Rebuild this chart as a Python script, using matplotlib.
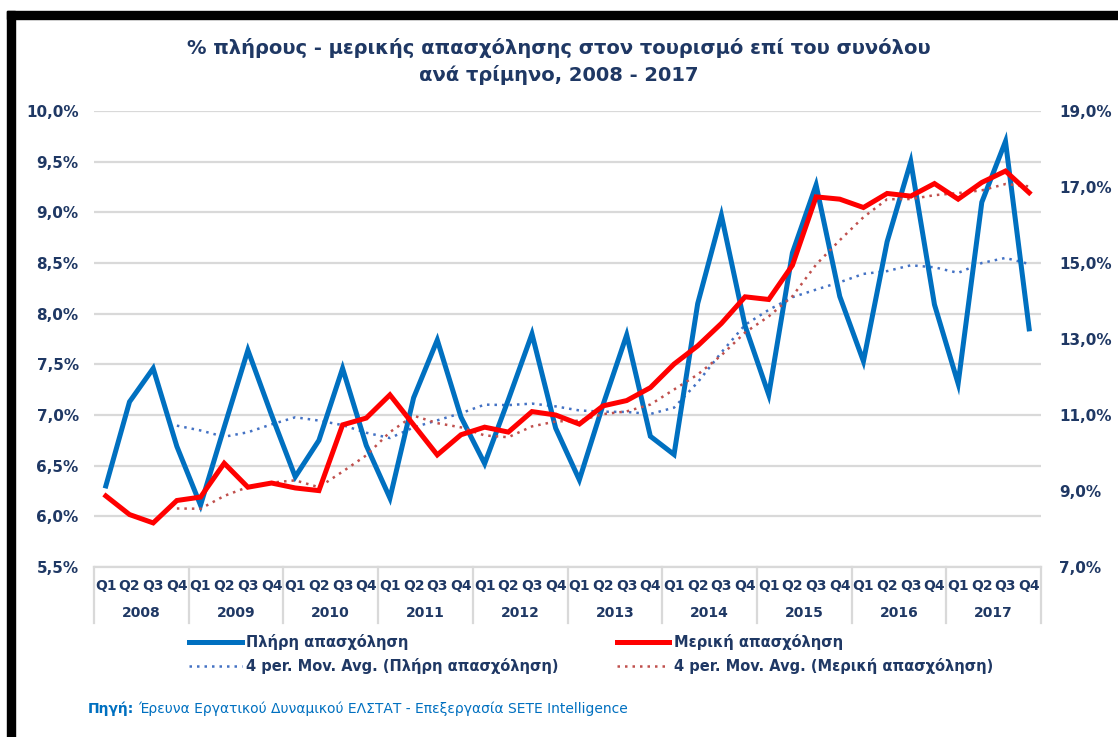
import matplotlib
matplotlib.use("Agg")
import matplotlib.pyplot as plt
import matplotlib.transforms as mtransforms
from matplotlib.patches import Rectangle
import pandas as pd

years = ["2008", "2009", "2010", "2011", "2012", "2013", "2014", "2015", "2016", "2017"]
quarters = ["Q1", "Q2", "Q3", "Q4"]

# % full-time (left axis)
full_time = [6.30, 7.13, 7.46, 6.69,
             6.11, 6.88, 7.64, 7.00,
             6.39, 6.75, 7.46, 6.70,
             6.18, 7.17, 7.74, 6.98,
             6.52, 7.15, 7.80, 6.87,
             6.36, 7.10, 7.79, 6.79,
             6.61, 8.10, 8.97, 7.88,
             7.20, 8.60, 9.27, 8.17,
             7.53, 8.71, 9.50, 8.09,
             7.31, 9.10, 9.70, 7.85]

# % part-time (right axis)
part_time = [8.87, 8.38, 8.16, 8.75,
             8.84, 9.73, 9.10, 9.21,
             9.08, 9.01, 10.74, 10.92,
             11.53, 10.74, 9.95, 10.48,
             10.68, 10.55, 11.09, 11.00,
             10.76, 11.24, 11.38, 11.72,
             12.34, 12.82, 13.41, 14.11,
             14.04, 14.94, 16.74, 16.68,
             16.46, 16.83, 16.76, 17.09,
             16.68, 17.12, 17.42, 16.85]

left_ticks = [5.5, 6.0, 6.5, 7.0, 7.5, 8.0, 8.5, 9.0, 9.5, 10.0]
right_ticks = [7, 9, 11, 13, 15, 17, 19]

NAVY = "#1F3864"
BLUE = "#0070C0"
RED = "#FF0000"
GRID = "#D9D9D9"

df = pd.DataFrame({"full": full_time, "part": part_time})
ma_full = df["full"].rolling(4).mean()
ma_part = df["part"].rolling(4).mean()
x = list(range(len(df)))

fig = plt.figure(figsize=(11.18, 7.37), dpi=100)
ax = fig.add_axes([94 / 1118, 1 - 567 / 737, 947 / 1118, 456 / 737])
ax2 = ax.twinx()

ax.set_xlim(-0.5, len(df) - 0.5)
ax.set_ylim(5.5, 10.0)
ax2.set_ylim(7, 19)
ax.set_yticks(left_ticks)
ax2.set_yticks(right_ticks)
ax.set_yticklabels([f"{v:.1f}%".replace(".", ",") for v in left_ticks])
ax2.set_yticklabels([f"{v:.1f}%".replace(".", ",") for v in right_ticks])

for a in (ax, ax2):
    for s in a.spines.values():
        s.set_visible(False)
    a.tick_params(length=0, labelsize=11, labelcolor=NAVY)
    for lab in a.get_yticklabels():
        lab.set_fontweight("bold")
ax.tick_params(axis="y", pad=11)
ax2.tick_params(axis="y", pad=13)

ax.grid(axis="y", color=GRID, linewidth=1.6)
ax.set_axisbelow(True)

# series
l1, = ax.plot(x, df["full"], color=BLUE, linewidth=3.6, solid_joinstyle="miter",
              label="Πλήρη απασχόληση", zorder=3)
m1, = ax.plot(x, ma_full, color="#4472C4", linewidth=1.8, linestyle=(0, (1, 2)),
              label="4 per. Mov. Avg. (Πλήρη απασχόληση)", zorder=2)
l2, = ax2.plot(x, df["part"], color=RED, linewidth=3.6, solid_joinstyle="miter",
               label="Μερική απασχόληση", zorder=3)
m2, = ax2.plot(x, ma_part, color="#C0504D", linewidth=1.8, linestyle=(0, (1, 2)),
               label="4 per. Mov. Avg. (Μερική απασχόληση)", zorder=2)

# category axis: quarters + years
ax.set_xticks(x)
ax.set_xticklabels(quarters * len(years), fontsize=10, fontweight="bold", color=NAVY)
ax.tick_params(axis="x", pad=9)
trans = mtransforms.blended_transform_factory(ax.transData, ax.transAxes)
for i, yr in enumerate(years):
    ax.text(i * 4 + 1.5, -0.100, yr, transform=trans, ha="center", va="center",
            fontsize=10, fontweight="bold", color=NAVY)
for i in range(len(years) + 1):
    ax.plot([i * 4 - 0.5, i * 4 - 0.5], [0, -0.122], transform=trans, color=GRID,
            linewidth=1.6, clip_on=False)
ax.plot([-0.5, len(df) - 0.5], [0, 0], transform=trans, color=GRID,
        linewidth=1.6, clip_on=False)

# title
fig.text(0.5, 1 - 48 / 737, "% πλήρους - μερικής απασχόλησης στον τουρισμό επί του συνόλου",
         ha="center", va="center", fontsize=14, fontweight="bold", color=NAVY)
fig.text(0.5, 1 - 75 / 737, "ανά τρίμηνο, 2008 - 2017",
         ha="center", va="center", fontsize=14, fontweight="bold", color=NAVY)

# legend
leg = fig.legend([l1, m1, l2, m2],
                 [l1.get_label(), m1.get_label(), l2.get_label(), m2.get_label()],
                 ncol=2, loc="center left", bbox_to_anchor=(176 / 1118, 1 - 654 / 737),
                 frameon=False, handlelength=3.6, columnspacing=4.0,
                 labelspacing=0.5, handletextpad=0.3,
                 prop={"size": 10.5, "weight": "bold"})
for t in leg.get_texts():
    t.set_color(NAVY)

# source
src = fig.text(88 / 1118, 1 - 709 / 737, "Πηγή:", ha="left", va="center",
               fontsize=10, fontweight="bold", color=BLUE)
fig.canvas.draw()
bb = src.get_window_extent()
fig.text((bb.x1 + 4) / 1118, 1 - 709 / 737,
         "Έρευνα Εργατικού Δυναμικού ΕΛΣΤΑΤ - Επεξεργασία SETE Intelligence",
         ha="left", va="center", fontsize=10, color=BLUE)

# black frame (top and left)
fig.add_artist(Rectangle((7 / 1118, 1 - 19 / 737), 1.0, 8 / 737,
                         transform=fig.transFigure, color="black", zorder=10))
fig.add_artist(Rectangle((7 / 1118, 0), 8 / 1118, 1 - 11 / 737,
                         transform=fig.transFigure, color="black", zorder=10))

fig.savefig("out.png", dpi=100)
